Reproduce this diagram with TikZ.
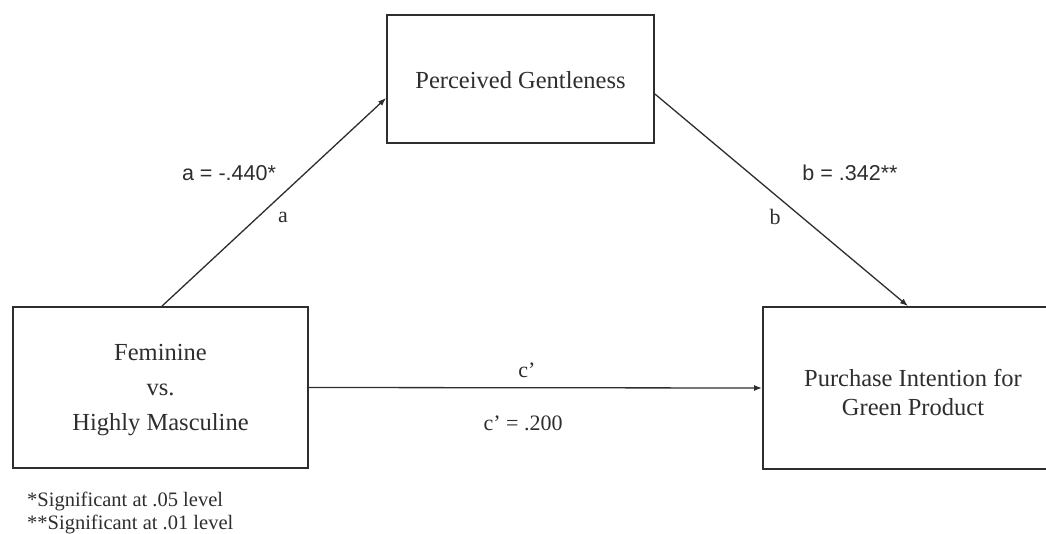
\documentclass[tikz,border=0pt]{standalone}
\usepackage{fontspec}
\setmainfont{Liberation Serif}
\newfontfamily\labsans{Liberation Sans}
\usetikzlibrary{arrows.meta}
\definecolor{ink}{HTML}{2E2E2E}
\begin{document}
\begin{tikzpicture}[x=1pt,y=-1pt,
  box/.style={draw=ink,line width=1.8pt,rectangle,inner sep=0pt},
  boxtext/.style={text=ink,inner sep=0pt,align=center},
  conn/.style={draw=ink,line width=1.3pt,-{Latex[length=8pt,width=6pt]}},
  lab/.style={text=ink,inner sep=0pt,font=\fontsize{22}{24}\selectfont},
  labsf/.style={text=ink,inner sep=0pt,font=\labsans\fontsize{21.5}{24}\selectfont},
  note/.style={text=ink,inner sep=0pt,anchor=base west,font=\fontsize{20.5}{22}\selectfont}]
\useasboundingbox (0,0) rectangle (1046,534);
\clip (0,0) rectangle (1046,534);
\fill[white] (0,0) rectangle (1046,534);
\node[box,minimum width=267pt,minimum height=128pt] (T) at (520.5,79) {};
\node[box,minimum width=295pt,minimum height=161pt] (L) at (160.5,387.5) {};
\node[box,minimum width=300pt,minimum height=162pt] (R) at (913,388) {};
\node[boxtext,font=\fontsize{24.5}{29}\selectfont] (Tt) at ([yshift=-1pt]T.center) {Perceived Gentleness};
\node[boxtext,font=\fontsize{24.5}{35}\selectfont] (Lt) at ([yshift=-3pt]L.center) {Feminine\\vs.\\Highly Masculine};
\node[boxtext,font=\fontsize{24.5}{29}\selectfont] (Rt) at ([yshift=-4.5pt]R.center) {Purchase Intention for\\Green Product};
\draw[conn] ([xshift=1.5pt]L.north) -- ([yshift=-19pt]T.west);
\draw[conn] ([yshift=-15pt]T.east) -- ([xshift=-5pt]R.north);
\draw[conn] (L.east) -- (R.west);
\node[labsf] (la) at (229,173) {a = -.440*};
\node[lab] (la2) at (283,217) {a};
\node[labsf] (lb) at (850,173) {b = .342**};
\node[lab] (lb2) at (775,217) {b};
\node[lab] (lc) at (527,370) {c’};
\node[lab] (lc2) at (523,423) {c’ = .200};
\node[note] (n1) at (27,506) {*Significant at .05 level};
\node[note] (n2) at (27,529) {**Significant at .01 level};
\end{tikzpicture}
\end{document}
